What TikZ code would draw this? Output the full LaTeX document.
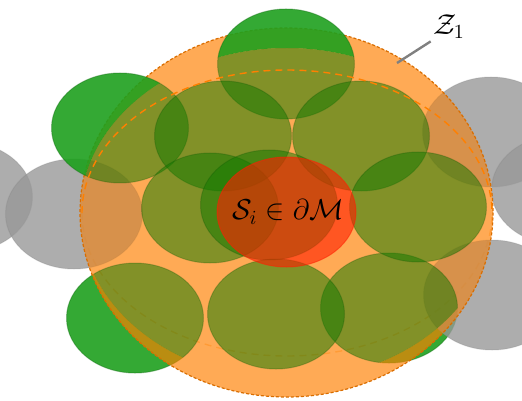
\documentclass[tikz,border=0pt]{standalone}
\usepackage{amsmath}
\usepackage{amssymb}
\usetikzlibrary{calc}

\definecolor{ballgreen}{RGB}{30,160,30}
\definecolor{frontgreen}{RGB}{20,122,0}
\definecolor{zoneorange}{RGB}{255,128,0}
\definecolor{ballgray}{RGB}{152,152,152}
\definecolor{centrered}{RGB}{255,30,0}

\begin{document}
\begin{tikzpicture}[x=0.5pt,y=-0.5pt,
  backball/.style={fill=ballgreen,fill opacity=0.9,draw=ballgreen!70!black,draw opacity=0.4,line width=0.5pt},
  frontball/.style={fill=frontgreen,fill opacity=0.53,draw=frontgreen!70!black,draw opacity=0.25,line width=0.5pt},
  outerball/.style={fill=ballgray,fill opacity=0.8,draw=ballgray!80!black,draw opacity=0.2,line width=0.5pt},
  zone/.style={fill=zoneorange,fill opacity=#1},
  zoneborder/.style={draw=zoneorange!85!black,dash pattern=on 1.5pt off 1pt,line width=0.6pt},
  equator/.style={draw=zoneorange,dash pattern=on 3.5pt off 2.5pt,line width=0.7pt}]
\def\rx{68.5}
\def\ry{55}
\useasboundingbox (0,0) rectangle (522,400);
\clip (0,0) rectangle (522,400);

% hidden half of the equator
\draw[equator,draw opacity=0.35] (82,213) arc [start angle=180,end angle=0,x radius=205,y radius=143];

% lower balls, behind the zone
\begin{scope}
\clip (-100,-100) -- (700,-100) -- (700,500) -- (-100,500) -- cycle
  (494,214) arc [start angle=0,end angle=-360,x radius=207,y radius=166];
\foreach \x/\y in {135/318,389/308}
  \draw[backball] (\x,\y) ellipse [x radius=\rx,y radius=\ry];
\end{scope}

\fill[zone=0.3] (286.5,212.5) ellipse [x radius=206.5,y radius=184.5];

% outside neighbours
\foreach \x/\y in {-36/197,74/214,491/132,560/190,492/295}
  \draw[outerball] (\x,\y) ellipse [x radius=\rx,y radius=\ry];

\fill[zone=0.52] (286.5,212.5) ellipse [x radius=206.5,y radius=184.5];
\draw[zoneborder] (286.5,212.5) ellipse [x radius=206.5,y radius=184.5];

% upper balls, in front of the zone
\begin{scope}
\clip (-100,-100) -- (700,-100) -- (700,500) -- (-100,500) -- cycle
  (494,214) arc [start angle=0,end angle=-360,x radius=207,y radius=166];
\foreach \x/\y in {286/64,120/128}
  \draw[backball] (\x,\y) ellipse [x radius=\rx,y radius=\ry];
\end{scope}

% balls seen through the front of the zone
\begin{scope}
\clip (287,214) ellipse [x radius=207,y radius=166];
\foreach \x/\y in {286/64,120/128,135/318,389/308,223/136,361/136,210/208,269/205,418/207,276/314}
  \draw[frontball] (\x,\y) ellipse [x radius=\rx,y radius=\ry];
\end{scope}

% visible half of the equator
\draw[equator] (82,213) arc [start angle=180,end angle=360,x radius=205,y radius=143];

% the boundary ball
\draw[fill=centrered,fill opacity=0.6,draw=centrered,draw opacity=0.5,line width=0.5pt]
  (286.5,212) ellipse [x radius=69.5,y radius=55];
\node (si) at (288,212) {\Large $\mathcal{S}_i \in \partial\mathcal{M}$};

\node[inner sep=1pt] (zone) at (449,27) {\Large $\mathcal{Z}_1$};
\coordinate (zonepin) at (397,63);
\draw[gray,line width=1.2pt] (zonepin) -- (zone.south west);

\end{tikzpicture}
\end{document}
